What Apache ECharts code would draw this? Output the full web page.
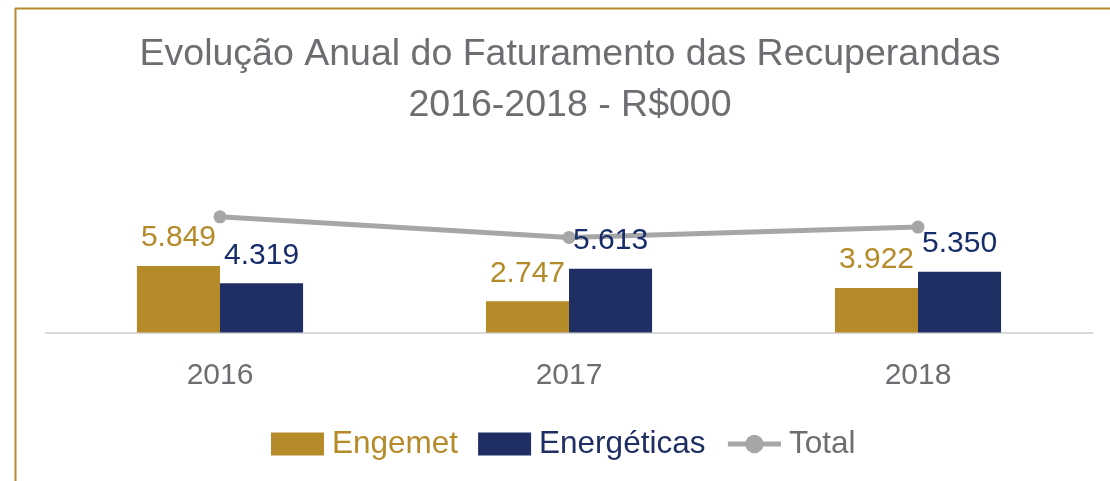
<!DOCTYPE html>
<html>
<head>
<meta charset="utf-8">
<script src="https://cdn.jsdelivr.net/npm/echarts@6/dist/echarts.min.js"></script>
<style>
html,body{margin:0;padding:0;background:#fff;}
#chart{width:1110px;height:481px;}
</style>
</head>
<body>
<div id="chart"></div>
<script>
const categories = ['2016', '2017', '2018'];
const engemet = [5849, 2747, 3922];
const energeticas = [4319, 5613, 5350];
const total = [10168, 8360, 9272];
const titleLines = ['Evolução Anual do Faturamento das Recuperandas', '2016-2018 - R$000'];

const FONT = '"Liberation Sans", Arial, Helvetica, sans-serif';
const GOLD = '#b58a28';
const NAVY = '#1f2f63';
const GRAY = '#a6a6a6';
const TEXTGRAY = '#6d6e72';

function fmt(v) {
  return String(v).replace(/\B(?=(\d{3})+(?!\d))/g, '.');
}

const chart = echarts.init(document.getElementById('chart'), null, {renderer: 'canvas'});
chart.setOption({
  animation: false,
  backgroundColor: '#ffffff',
  title: {
    text: titleLines.join('\n'),
    left: 565,
    textAlign: 'center',
    top: 24,
    textStyle: {
      fontFamily: FONT,
      fontSize: 37.5,
      fontWeight: 'normal',
      color: TEXTGRAY,
      lineHeight: 51
    }
  },
  graphic: [
    {type: 'line', shape: {x1: 15, y1: 8.5, x2: 1110, y2: 8.5}, style: {stroke: '#b8892a', lineWidth: 2}},
    {type: 'line', shape: {x1: 15.5, y1: 8, x2: 15.5, y2: 481}, style: {stroke: '#b8892a', lineWidth: 2}}
  ],
  legend: {
    bottom: 16,
    left: 266,
    itemWidth: 53,
    itemHeight: 23,
    itemGap: 20,
    textStyle: {fontFamily: FONT, fontSize: 31.5, padding: [0, 0, 0, 3]},
    data: [
      {name: 'Engemet', icon: 'rect', textStyle: {color: GOLD}},
      {name: 'Energéticas', icon: 'rect', textStyle: {color: NAVY}},
      {name: 'Total', textStyle: {color: TEXTGRAY}, lineStyle: {width: 5, color: GRAY}}
    ]
  },
  grid: {left: 45.5, right: 17.5, top: 196, bottom: 148.5, containLabel: false},
  xAxis: {
    type: 'category',
    data: categories,
    axisLine: {lineStyle: {color: '#d9d9d9', width: 2}},
    axisTick: {show: false},
    axisLabel: {fontFamily: FONT, fontSize: 30, color: TEXTGRAY, margin: 28}
  },
  yAxis: {
    type: 'value',
    min: 0,
    max: 12000,
    show: false,
    splitLine: {show: false}
  },
  series: [
    {
      name: 'Engemet',
      type: 'bar',
      data: engemet,
      barGap: '0%',
      barCategoryGap: '52.4%',
      itemStyle: {color: GOLD},
      label: {
        show: true,
        position: 'top',
        distance: 13,
        fontFamily: FONT,
        fontSize: 30,
        color: GOLD,
        formatter: p => fmt(p.value)
      }
    },
    {
      name: 'Energéticas',
      type: 'bar',
      data: energeticas,
      itemStyle: {color: NAVY},
      label: {
        show: true,
        position: 'top',
        distance: 13,
        fontFamily: FONT,
        fontSize: 30,
        color: '#172d6a',
        formatter: p => fmt(p.value)
      }
    },
    {
      name: 'Total',
      type: 'line',
      data: total,
      z: 1,
      symbol: 'circle',
      symbolSize: 13,
      lineStyle: {color: GRAY, width: 5},
      itemStyle: {color: GRAY}
    }
  ]
});
</script>
</body>
</html>
